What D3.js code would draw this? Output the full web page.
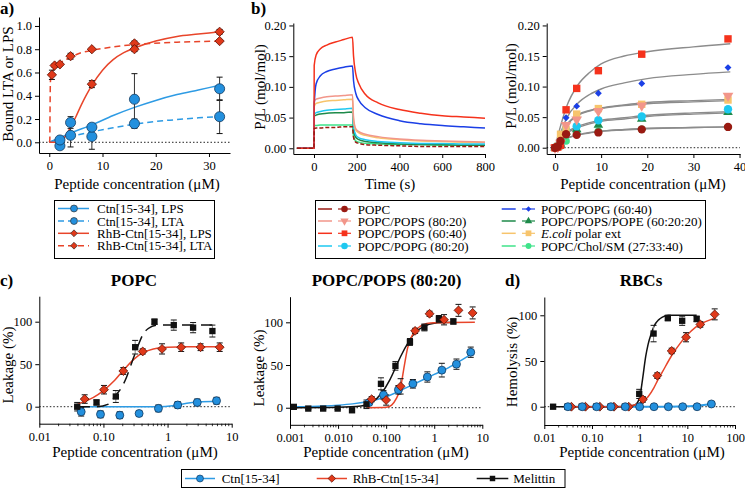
<!DOCTYPE html>
<html><head><meta charset="utf-8">
<script src="https://cdn.jsdelivr.net/npm/d3@7"></script>
<style>
body{margin:0;background:#fff}
svg{display:block}
svg text{font-family:"Liberation Serif","Tinos","Times New Roman","DejaVu Serif","Noto Serif",serif !important;fill:#000}
</style>
</head><body>
<svg id="c" width="745" height="488"></svg>
<script>
// ---------------- DATA ----------------
// Panel a: binding to LTA / LPS
const aCtnConc = [2, 4, 8, 16, 32];
const aCtnLPS = [0.02, 0.17, 0.13, 0.37, 0.46];
const aCtnLPSErr = [0.03, 0.05, 0.03, 0.22, 0.10];
const aCtnLTA = [-0.03, 0.06, 0.05, 0.16, 0.22];
const aCtnLTAErr = [0.02, 0.10, 0.11, 0.04, 0.145];
const aRhbLPSConc = [8, 16, 32];
const aRhbLPS = [0.50, 0.80, 0.95];
const aRhbLPSErr = [0.03, 0.02, 0.02];
const aRhbLTAConc = [0.5, 1, 2, 4, 8, 16, 32];
const aRhbLTA = [0.58, 0.66, 0.67, 0.74, 0.80, 0.85, 0.87];
const aRhbLTAErr = [0.04, 0.015, 0.01, 0.025, 0.01, 0.02, 0.01];
// fitted curves
const aFitCtnLPSx = [0, 2, 4, 8, 12, 16, 20, 24, 28, 32];
const aFitCtnLPSy = [0, 0.04, 0.08, 0.15, 0.23, 0.30, 0.36, 0.41, 0.45, 0.49];
const aFitCtnLTAx = [0, 4, 8, 12, 16, 20, 24, 28, 32];
const aFitCtnLTAy = [0, 0.05, 0.09, 0.125, 0.155, 0.18, 0.195, 0.21, 0.22];
const aFitRhbLPSx = [0, 1, 2, 3, 4, 5, 6, 7, 8, 10, 12, 14, 16, 20, 24, 28, 32];
const aFitRhbLPSy = [0, 0, 0.01, 0.05, 0.13, 0.22, 0.32, 0.41, 0.49, 0.62, 0.71, 0.77, 0.81, 0.87, 0.91, 0.93, 0.95];
const aFitRhbLTAx = [0, 0.1, 0.15, 0.2, 0.3, 0.5, 1, 2, 4, 6, 8, 12, 16, 24, 32];
const aFitRhbLTAy = [0, 0.02, 0.3, 0.5, 0.57, 0.6, 0.64, 0.68, 0.73, 0.77, 0.79, 0.82, 0.84, 0.86, 0.87];
const aXTicks = [0, 10, 20, 30];
const aYTicks = [0, 0.2, 0.4, 0.6, 0.8, 1.0];
const aYLabels = ["0.0", "0.2", "0.4", "0.6", "0.8", "1.0"];

// Panel b: membrane composition names
const bNames = ["POPC", "POPC/POPS (80:20)", "POPC/POPS (60:40)", "POPC/POPG (80:20)",
  "POPC/POPG (60:40)", "POPC/POPS/POPE (60:20:20)", "E.coli polar ext", "POPC/Chol/SM (27:33:40)"];
// b left: sensorgram time courses
const bTime = [-80, 0, 1, 10, 30, 60, 100, 140, 180, 185, 195, 210, 240, 300, 400, 500, 600, 700, 800];
const bPOPC   = [0, 0, 0.032, 0.033, 0.033, 0.034, 0.034, 0.035, 0.035, 0.018, 0.010, 0.008, 0.006, 0.005, 0.004, 0.003, 0.003, 0.003, 0.003];
const bPOPS80 = [0, 0, 0.076, 0.080, 0.082, 0.084, 0.085, 0.086, 0.087, 0.050, 0.032, 0.027, 0.023, 0.019, 0.015, 0.013, 0.012, 0.011, 0.010];
const bPOPS60 = [0, 0, 0.135, 0.152, 0.162, 0.168, 0.173, 0.177, 0.181, 0.150, 0.122, 0.105, 0.088, 0.074, 0.063, 0.057, 0.053, 0.051, 0.049];
const bPOPG80 = [0, 0, 0.055, 0.058, 0.060, 0.062, 0.063, 0.064, 0.065, 0.035, 0.022, 0.017, 0.014, 0.011, 0.009, 0.008, 0.008, 0.007, 0.007];
const bPOPG60 = [0, 0, 0.070, 0.105, 0.118, 0.125, 0.129, 0.132, 0.134, 0.110, 0.090, 0.078, 0.066, 0.055, 0.045, 0.040, 0.037, 0.035, 0.033];
const bPOPE   = [0, 0, 0.052, 0.054, 0.056, 0.057, 0.058, 0.058, 0.059, 0.030, 0.018, 0.014, 0.011, 0.009, 0.007, 0.006, 0.006, 0.005, 0.005];
const bEcoli  = [0, 0, 0.068, 0.073, 0.075, 0.077, 0.078, 0.079, 0.080, 0.045, 0.030, 0.025, 0.021, 0.017, 0.014, 0.012, 0.011, 0.010, 0.010];
const bChol   = [0, 0, 0.037, 0.037, 0.038, 0.038, 0.038, 0.038, 0.038, 0.020, 0.012, 0.010, 0.008, 0.007, 0.006, 0.006, 0.005, 0.005, 0.005];
const bTimeTicks = [0, 200, 400, 600, 800];
const bYTicks = [0, 0.05, 0.10, 0.15, 0.20];
const bYLabels = ["0.00", "0.05", "0.10", "0.15", "0.20"];
// b right: steady-state P/L vs concentration
const bConc = [0, 0.6, 1.2, 2.4, 4.7, 9.4, 18.8, 37.5];
const bPtPOPC   = [0, 0.002, 0.011, 0.022, 0.021, 0.025, 0.030, 0.034];
const bPtPOPS80 = [0, 0.001, 0.008, 0.037, 0.046, 0.060, 0.069, 0.085];
const bPtPOPS60 = [0, 0.001, 0.004, 0.062, 0.097, 0.126, 0.153, 0.178];
const bPtPOPG80 = [0, 0.001, 0.008, 0.029, 0.035, 0.045, 0.051, 0.063];
const bPtPOPG60 = [0, 0.001, 0.006, 0.049, 0.068, 0.089, 0.105, 0.131];
const bPtPOPE   = [0, 0.001, 0.006, 0.026, 0.030, 0.037, 0.047, 0.058];
const bPtEcoli  = [0, 0.002, 0.022, 0.030, 0.055, 0.064, 0.071, 0.078];
const bPtChol   = [0, 0.001, 0.003, 0.011, 0.024, 0.027, 0.030, 0.034];
const bFitX = [0, 1, 2.5, 5, 7.5, 10, 15, 20, 30, 38];
const bFitPOPC   = [0, 0.007, 0.015, 0.021, 0.024, 0.027, 0.030, 0.032, 0.033, 0.034];
const bFitPOPS80 = [0, 0.016, 0.037, 0.054, 0.061, 0.065, 0.070, 0.074, 0.077, 0.079];
const bFitPOPS60 = [0, 0.030, 0.067, 0.103, 0.123, 0.137, 0.150, 0.157, 0.165, 0.170];
const bFitPOPG80 = [0, 0.011, 0.025, 0.035, 0.041, 0.045, 0.049, 0.053, 0.057, 0.059];
const bFitPOPG60 = [0, 0.020, 0.048, 0.073, 0.087, 0.096, 0.106, 0.113, 0.120, 0.124];
const bFitPOPE   = [0, 0.010, 0.023, 0.033, 0.039, 0.043, 0.047, 0.051, 0.055, 0.057];
const bFitEcoli  = [0, 0.016, 0.036, 0.053, 0.060, 0.064, 0.069, 0.072, 0.075, 0.077];
const bFitChol   = [0, 0.007, 0.015, 0.021, 0.025, 0.027, 0.029, 0.031, 0.033, 0.034];
const bConcTicks = [0, 10, 20, 30, 40];

// Panel c left: POPC leakage
const cpMelConc = [0.039, 0.078, 0.156, 0.3125, 0.625, 1.25, 2.5, 5];
const cpMel = [0, 5, 12, 70, 100, 96, 93, 89];
const cpMelErr = [5, 3, 7, 8, 3, 6, 6, 7];
const cpRhbConc = [0.051, 0.102, 0.204, 0.41, 0.82, 1.63, 3.27, 6.5];
const cpRhb = [9, 20, 42, 65, 68, 70, 70, 70];
const cpRhbErr = [5, 5, 4, 3, 6, 5, 4, 5];
const cpCtnConc = [0.045, 0.09, 0.18, 0.36, 0.72, 1.44, 2.9, 5.8];
const cpCtn = [-6, -9, -10, -8, -2, 2, 5, 7];
const cpCtnErr = [5, 4, 4, 3, 4, 4, 4, 4];
const cpFitMelX = [0.04, 0.08, 0.12, 0.15, 0.2, 0.23, 0.28, 0.34, 0.42, 0.5, 0.68, 1, 5];
const cpFitMelY = [0, 0, 3, 12, 25, 35, 53, 70, 86, 92, 96, 96, 96];
const cpFitRhbX = [0.04, 0.05, 0.07, 0.1, 0.15, 0.2, 0.3, 0.4, 0.6, 1, 2, 7];
const cpFitRhbY = [3, 6, 11, 19, 31, 42, 56, 63, 68, 70, 70.5, 70.5];
const cpFitCtnX = [0.04, 0.1, 0.3, 0.7, 1.2, 2, 3, 6];
const cpFitCtnY = [0, 0, 0, 0, 1, 4, 5.5, 6.5];
const cpXTicks = [0.01, 0.1, 1, 10];
const cpXLabels = ["0.01", "0.10", "1", "10"];
const cYTicks = [0, 50, 100];

// Panel c right: POPC/POPS (80:20) leakage
const csMelConc = [0.0012, 0.0024, 0.0049, 0.0098, 0.0195, 0.039, 0.078, 0.156, 0.3125, 0.625, 1.25, 2.5];
const csMel = [1, -1, -1, -1, -3, 4, 28, 49, 77, 94, 104, 101];
const csMelErr = [2, 1, 1, 1, 2, 5, 7, 5, 4, 4, 4, 3];
const csRhbConc = [0.05, 0.1, 0.2, 0.4, 0.8, 1.6, 3.2, 6.3];
const csRhb = [10, 9, 25, 90, 110, 103, 114, 111];
const csRhbErr = [3, 6, 9, 3, 3, 6, 7, 7];
const csCtnConc = [0.044, 0.088, 0.18, 0.36, 0.72, 1.44, 2.9, 5.75];
const csCtn = [6, 15, 21, 28, 36, 44, 51, 65];
const csCtnErr = [3, 5, 5, 5, 6, 8, 6, 6];
const csFitMelX = [0.0012, 0.01, 0.03, 0.05, 0.08, 0.12, 0.16, 0.2, 0.3, 0.4, 0.6, 1, 2.5];
const csFitMelY = [0, 0.5, 2, 6, 17, 33, 48, 60, 78, 88, 95, 99, 100];
const csFitRhbX = [0.04, 0.1, 0.13, 0.16, 0.2, 0.24, 0.28, 0.33, 0.4, 0.5, 0.7, 1, 7];
const csFitRhbY = [0, 0.5, 3, 10, 24, 50, 70, 82, 90, 95, 98.5, 99.5, 100];
const csFitCtnX = [0.0012, 0.005, 0.01, 0.02, 0.04, 0.08, 0.15, 0.3, 0.6, 1, 2, 4, 6];
const csFitCtnY = [1, 2, 3, 4.5, 7, 11, 17, 25, 33, 39, 47, 57, 63];
const csXTicks = [0.001, 0.01, 0.1, 1, 10];
const csXLabels = ["0.001", "0.010", "0.100", "1", "10"];

// Panel d: RBC hemolysis
const dMelConc = [0.0153, 0.0306, 0.061, 0.122, 0.245, 0.49, 0.98, 1.96, 3.9, 7.8, 15.7];
const dMel = [0, 0, 0, 0, 0, 0, 14, 80, 97, 94, 96];
const dMelErr = [0, 0, 0, 0, 0, 0, 5, 9, 3, 5, 3];
const dRhbConc = [0.037, 0.073, 0.146, 0.29, 0.59, 1.17, 2.34, 4.7, 9.4, 18.75, 37.5];
const dRhb = [0, 0, 0, 0, 0, 8, 34, 61, 76, 90, 101];
const dRhbErr = [0, 0, 0, 0, 0, 3, 3, 3, 5, 3, 6];
const dCtnConc = [0.0313, 0.0625, 0.125, 0.25, 0.5, 1, 2, 4, 8, 16, 32];
const dCtn = [0, 0, 0, 0, 0, 0, 0, 0, 0, 0, 3];
const dCtnErr = [0, 0, 0, 0, 0, 0, 0, 0, 0, 0, 2];
const dFitMelX = [0.015, 0.5, 0.8, 1, 1.15, 1.34, 1.5, 1.75, 2, 2.5, 3, 4, 15.7];
const dFitMelY = [0, 0, 2, 10, 30, 55, 68, 80, 88, 95, 98, 100, 100];
const dFitRhbX = [0.037, 0.3, 0.6, 1, 1.5, 2, 2.34, 3, 4.7, 7, 9.4, 15, 20, 30, 40];
const dFitRhbY = [0, 0, 1, 4, 11, 21, 28, 38, 56, 69, 77, 87, 91, 95, 97];
const dFitCtnX = [0.03, 1, 4, 10, 20, 32];
const dFitCtnY = [0, 0, 0, 0.5, 1.5, 3];
const dXTicks = [0.01, 0.1, 1, 10, 100];
const dXLabels = ["0.01", "0.10", "1", "10", "100"];

// ---------------- STYLE ----------------
const FONT = '"Liberation Serif","Tinos","Times New Roman","DejaVu Serif","Noto Serif",serif';
const C = {
  blue: "#2390DE", blueLine: "#2E9BE4", red: "#E0391A", redLine: "#E8452A", black: "#111",
  POPC: "#9A1A12", POPS80: "#F2968A", POPS60: "#F5321C", POPG80: "#1EC8F0",
  POPG60: "#1B3FE6", POPE: "#1E8A4A", Ecoli: "#F7C46C", Chol: "#3FE38A"
};
const svg = d3.select("#c").attr("font-family", FONT);
const pts = (xs, ys) => xs.map((v, i) => [v, ys[i]]);
const DIAMOND = d3.symbolDiamond2 || d3.symbolDiamond;

function drawAxes(g, x, y, o) {
  const xa = d3.axisBottom(x).tickSize(4).tickSizeOuter(0).tickPadding(4).tickValues(o.xt);
  if (o.xl) xa.tickFormat((d, i) => o.xl[i]); else xa.tickFormat(d3.format("d"));
  g.append("g").attr("transform", `translate(0,${y.range()[0]})`).call(xa);
  const ya = d3.axisLeft(y).tickSize(4).tickSizeOuter(0).tickPadding(3).tickValues(o.yt);
  if (o.yl) ya.tickFormat((d, i) => o.yl[i]); else ya.tickFormat(d3.format("d"));
  g.append("g").attr("transform", `translate(${x.range()[0]},0)`).call(ya);
  if (o.minor) {
    const [a, b] = x.domain();
    const mv = [];
    for (let e = Math.floor(Math.log10(a)); e <= Math.ceil(Math.log10(b)); e++)
      for (let k = 2; k <= 9; k++) { const v = k * Math.pow(10, e); if (v > a && v < b) mv.push(v); }
    g.append("g").selectAll("line").data(mv).join("line")
      .attr("x1", d => x(d)).attr("x2", d => x(d))
      .attr("y1", y.range()[0]).attr("y2", y.range()[0] + 2.5)
      .attr("stroke", "#000").attr("stroke-width", 0.8);
  }
  g.selectAll("g").attr("font-family", FONT);
  g.selectAll(".tick text").attr("font-family", FONT).style("font-size", "12.5px");
  g.selectAll(".domain,.tick line").attr("stroke", "#000");
}
function zeroLine(g, x, y) {
  g.append("line").attr("x1", x.range()[0]).attr("x2", x.range()[1])
    .attr("y1", y(0)).attr("y2", y(0))
    .attr("stroke", "#222").attr("stroke-width", 1).attr("stroke-dasharray", "1.5,2");
}
function curve(g, x, y, data, color, w, dash) {
  g.append("path").datum(data)
    .attr("d", d3.line().x(d => x(d[0])).y(d => y(d[1])).curve(d3.curveMonotoneX))
    .attr("fill", "none").attr("stroke", color).attr("stroke-width", w || 1.5)
    .attr("stroke-dasharray", dash || null);
}
function errs(g, x, y, xs, ys, es, color, cap) {
  const d = xs.map((v, i) => ({ x: v, y: ys[i], e: es[i] })).filter(d => d.e > 0);
  const gg = g.append("g").attr("stroke", color).attr("stroke-width", 1);
  gg.selectAll("line.v").data(d).join("line").attr("class", "v")
    .attr("x1", d => x(d.x)).attr("x2", d => x(d.x)).attr("y1", d => y(d.y - d.e)).attr("y2", d => y(d.y + d.e));
  [1, -1].forEach(s => gg.selectAll("line.c" + s).data(d).join("line").attr("class", "c" + s)
    .attr("x1", d => x(d.x) - cap).attr("x2", d => x(d.x) + cap)
    .attr("y1", d => y(d.y + s * d.e)).attr("y2", d => y(d.y + s * d.e)).attr("stroke", "#111"));
}
function marks(g, x, y, xs, ys, type, size, fill, stroke, rot) {
  g.append("g").selectAll("path").data(pts(xs, ys)).join("path")
    .attr("d", d3.symbol().type(type).size(size))
    .attr("transform", d => `translate(${x(d[0])},${y(d[1])})` + (rot ? ` rotate(${rot})` : ""))
    .attr("fill", fill).attr("stroke", stroke).attr("stroke-width", stroke === "none" ? 0 : 0.8);
}
function xTitle(t, cx, by) {
  svg.append("text").attr("x", cx).attr("y", by).attr("text-anchor", "middle")
    .style("font-size", "15px").text(t);
}
function yTitle(t, cx, cy) {
  svg.append("text").attr("transform", `translate(${cx},${cy}) rotate(-90)`).attr("dy", "0.35em")
    .attr("text-anchor", "middle").style("font-size", "15px").text(t);
}
function label(t, x, y, size, anchor) {
  svg.append("text").attr("x", x).attr("y", y).attr("text-anchor", anchor || "start")
    .style("font-size", size + "px").style("font-weight", "bold").text(t);
}

// ---------------- PANEL a ----------------
{
  const g = svg.append("g");
  const x = d3.scaleLinear().domain([-1.93, 33.95]).range([39, 230]);
  const y = d3.scaleLinear().domain([-0.092, 1.077]).range([153, 17]);
  zeroLine(g, x, y);
  drawAxes(g, x, y, { xt: aXTicks, yt: aYTicks, yl: aYLabels });
  curve(g, x, y, pts(aFitCtnLPSx, aFitCtnLPSy), C.blueLine, 1.5);
  curve(g, x, y, pts(aFitCtnLTAx, aFitCtnLTAy), C.blueLine, 1.5, "6,4");
  curve(g, x, y, pts(aFitRhbLPSx, aFitRhbLPSy), C.redLine, 1.5);
  curve(g, x, y, pts(aFitRhbLTAx, aFitRhbLTAy), C.redLine, 1.5, "6,4");
  errs(g, x, y, aCtnConc, aCtnLPS, aCtnLPSErr, "#333", 3);
  errs(g, x, y, aCtnConc, aCtnLTA, aCtnLTAErr, "#333", 3);
  errs(g, x, y, aRhbLPSConc, aRhbLPS, aRhbLPSErr, "#333", 3);
  errs(g, x, y, aRhbLTAConc, aRhbLTA, aRhbLTAErr, "#333", 3);
  marks(g, x, y, aCtnConc, aCtnLTA, d3.symbolCircle, 80, C.blue, "#123a60");
  marks(g, x, y, aCtnConc, aCtnLPS, d3.symbolCircle, 80, C.blue, "#123a60");
  marks(g, x, y, aRhbLTAConc, aRhbLTA, DIAMOND, 55, C.red, "#5a1005");
  marks(g, x, y, aRhbLPSConc, aRhbLPS, DIAMOND, 55, C.red, "#5a1005");
  yTitle("Bound LTA or LPS", 8, 84);
  xTitle("Peptide concentration (\u03bcM)", 137, 189);
  label("a)", 0, 14, 17);
}

// ---------------- PANEL b (left) ----------------
const bSeries = [
  { n: bNames[0], k: "POPC", t: bPOPC, p: bPtPOPC, f: bFitPOPC, sym: d3.symbolCircle, s: 55 },
  { n: bNames[1], k: "POPS80", t: bPOPS80, p: bPtPOPS80, f: bFitPOPS80, sym: d3.symbolTriangle, s: 50, rot: 180 },
  { n: bNames[2], k: "POPS60", t: bPOPS60, p: bPtPOPS60, f: bFitPOPS60, sym: d3.symbolSquare, s: 55 },
  { n: bNames[3], k: "POPG80", t: bPOPG80, p: bPtPOPG80, f: bFitPOPG80, sym: d3.symbolCircle, s: 55 },
  { n: bNames[4], k: "POPG60", t: bPOPG60, p: bPtPOPG60, f: bFitPOPG60, sym: DIAMOND, s: 30 },
  { n: bNames[5], k: "POPE", t: bPOPE, p: bPtPOPE, f: bFitPOPE, sym: d3.symbolTriangle, s: 40 },
  { n: bNames[6], k: "Ecoli", t: bEcoli, p: bPtEcoli, f: bFitEcoli, sym: d3.symbolSquare, s: 55 },
  { n: bNames[7], k: "Chol", t: bChol, p: bPtChol, f: bFitChol, sym: d3.symbolCircle, s: 45 }
];
{
  const g = svg.append("g");
  const x = d3.scaleLinear().domain([-96.8, 800]).range([293.3, 485]);
  const y = d3.scaleLinear().domain([-0.0093, 0.204]).range([154, 23]);
  drawAxes(g, x, y, { xt: bTimeTicks, yt: bYTicks, yl: bYLabels });
  const order = ["Chol", "POPE", "POPG80", "Ecoli", "POPS80", "POPG60", "POPS60"];
  order.forEach(k => { const s = bSeries.find(d => d.k === k); curve(g, x, y, pts(bTime, s.t), C[k], 1.5); });
  curve(g, x, y, pts(bTime, bPOPC), C.POPC, 1.5, "4,2");
  yTitle("P/L (mol/mol)", 260, 87);
  xTitle("Time (s)", 390, 189);
  label("b)", 251, 14, 17);
}
// ---------------- PANEL b (right) ----------------
{
  const g = svg.append("g");
  const x = d3.scaleLinear().domain([-1.8, 40.1]).range([546.7, 740]);
  const y = d3.scaleLinear().domain([-0.0103, 0.204]).range([154, 23]);
  zeroLine(g, x, y);
  drawAxes(g, x, y, { xt: bConcTicks, yt: bYTicks, yl: bYLabels });
  bSeries.forEach(s => curve(g, x, y, pts(bFitX, s.f), "#8c8c8c", 1.4));
  ["Chol", "POPE", "POPG80", "Ecoli", "POPS80", "POPG60", "POPS60", "POPC"].forEach(k => {
    const s = bSeries.find(d => d.k === k);
    marks(g, x, y, bConc, s.p, s.sym, s.s, C[k], "none", s.rot);
  });
  yTitle("P/L (mol/mol)", 511, 86);
  xTitle("Peptide concentration (\u03bcM)", 643, 189);
}

// ---------------- LEGENDS (top) ----------------
{
  const g = svg.append("g");
  g.append("rect").attr("x", 54.5).attr("y", 200.5).attr("width", 160).attr("height", 58)
    .attr("fill", "#fff").attr("stroke", "#000").attr("stroke-width", 1);
  const items = [
    { t: "Ctn[15-34], LPS", c: C.blueLine, f: C.blue, sym: d3.symbolCircle, dash: null, s: 38 },
    { t: "Ctn[15-34], LTA", c: C.blueLine, f: C.blue, sym: d3.symbolCircle, dash: "6,4", s: 38 },
    { t: "RhB-Ctn[15-34], LPS", c: C.redLine, f: C.red, sym: DIAMOND, dash: null, s: 30 },
    { t: "RhB-Ctn[15-34], LTA", c: C.redLine, f: C.red, sym: DIAMOND, dash: "6,4", s: 30 }
  ];
  const rows = [208.5, 221, 233.3, 245.7];
  items.forEach((it, i) => {
    const yy = rows[i];
    g.append("line").attr("x1", 58).attr("x2", 89).attr("y1", yy).attr("y2", yy)
      .attr("stroke", it.c).attr("stroke-width", 1.5).attr("stroke-dasharray", it.dash);
    g.append("path").attr("d", d3.symbol().type(it.sym).size(it.s)).attr("transform", `translate(74,${yy})`)
      .attr("fill", it.f).attr("stroke", "#333").attr("stroke-width", 0.7);
    g.append("text").attr("x", 97).attr("y", yy).attr("dy", "0.35em").style("font-size", "13px").text(it.t);
  });
}
{
  const g = svg.append("g");
  g.append("rect").attr("x", 315.5).attr("y", 200.5).attr("width", 390).attr("height", 58)
    .attr("fill", "#fff").attr("stroke", "#000").attr("stroke-width", 1);
  const rows = [209, 221, 233.3, 246];
  bSeries.forEach((s, i) => {
    const col = i < 4 ? 0 : 1, yy = rows[i % 4];
    const x0 = col ? 501.7 : 318, xm = col ? 522 : 338, tx = col ? 541 : 357.7;
    g.append("line").attr("x1", x0).attr("x2", x0 + 14).attr("y1", yy).attr("y2", yy)
      .attr("stroke", C[s.k]).attr("stroke-width", 1.5);
    g.append("line").attr("x1", xm).attr("x2", xm + 13).attr("y1", yy).attr("y2", yy)
      .attr("stroke", C[s.k]).attr("stroke-width", 1.2);
    g.append("path").attr("d", d3.symbol().type(s.sym).size(s.s * 0.6))
      .attr("transform", `translate(${xm + 6.5},${yy})` + (s.rot ? ` rotate(${s.rot})` : ""))
      .attr("fill", C[s.k]);
    const t = g.append("text").attr("x", tx).attr("y", yy).attr("dy", "0.35em").style("font-size", "13px");
    if (s.k === "Ecoli") {
      t.append("tspan").style("font-style", "italic").text("E.coli");
      t.append("tspan").text(" polar ext");
    } else t.text(s.n);
  });
}

// ---------------- PANEL c (left) ----------------
function leakPanel(xr, xd, yr, yd, o) {
  const g = svg.append("g");
  const x = d3.scaleLog().domain(xd).range(xr);
  const y = d3.scaleLinear().domain(yd).range(yr);
  zeroLine(g, x, y);
  drawAxes(g, x, y, { xt: o.xt, xl: o.xl, yt: cYTicks, minor: true });
  return { g, x, y };
}
{
  const { g, x, y } = leakPanel([39.3, 231.7], [0.01, 10], [423.7, 296.2], [-20, 130], { xt: cpXTicks, xl: cpXLabels });
  curve(g, x, y, pts(cpFitCtnX, cpFitCtnY), C.blueLine, 1.5);
  curve(g, x, y, pts(cpFitRhbX, cpFitRhbY), C.redLine, 1.5);
  curve(g, x, y, pts(cpFitMelX, cpFitMelY), "#111", 1.5, "12,7");
  errs(g, x, y, cpCtnConc, cpCtn, cpCtnErr, "#888", 3);
  errs(g, x, y, cpRhbConc, cpRhb, cpRhbErr, "#888", 3);
  errs(g, x, y, cpMelConc, cpMel, cpMelErr, "#888", 3);
  marks(g, x, y, cpCtnConc, cpCtn, d3.symbolCircle, 50, C.blue, "#123a60");
  marks(g, x, y, cpRhbConc, cpRhb, DIAMOND, 50, C.red, "#5a1005");
  marks(g, x, y, cpMelConc, cpMel, d3.symbolSquare, 40, "#111", "none");
  yTitle("Leakage (%)", 8, 365);
  xTitle("Peptide concentration (\u03bcM)", 135, 457);
  label("c)", 0, 286, 17);
  label("POPC", 134, 286, 17, "middle");
}
// ---------------- PANEL c (right) ----------------
{
  const { g, x, y } = leakPanel([290, 482.3], [0.001, 10], [424.8, 296.7], [-20, 130], { xt: csXTicks, xl: csXLabels });
  curve(g, x, y, pts(csFitCtnX, csFitCtnY), C.blueLine, 1.5);
  curve(g, x, y, pts(csFitMelX, csFitMelY), "#111", 1.5);
  curve(g, x, y, pts(csFitRhbX, csFitRhbY), C.redLine, 1.5);
  errs(g, x, y, csCtnConc, csCtn, csCtnErr, "#888", 3);
  errs(g, x, y, csRhbConc, csRhb, csRhbErr, "#888", 3);
  errs(g, x, y, csMelConc, csMel, csMelErr, "#888", 3);
  marks(g, x, y, csCtnConc, csCtn, d3.symbolCircle, 50, C.blue, "#123a60");
  marks(g, x, y, csMelConc, csMel, d3.symbolSquare, 40, "#111", "none");
  marks(g, x, y, csRhbConc, csRhb, DIAMOND, 50, C.red, "#5a1005");
  yTitle("Leakage (%)", 259, 368);
  xTitle("Peptide concentration (\u03bcM)", 386, 457);
  label("POPC/POPS (80:20)", 386.5, 286, 17, "middle");
}
// ---------------- PANEL d ----------------
{
  const g = svg.append("g");
  const x = d3.scaleLog().domain([0.01, 100]).range([544.3, 735]);
  const y = d3.scaleLinear().domain([-20, 120]).range([425, 297]);
  zeroLine(g, x, y);
  drawAxes(g, x, y, { xt: dXTicks, xl: dXLabels, yt: cYTicks, minor: true });
  curve(g, x, y, pts(dFitCtnX, dFitCtnY), C.blueLine, 2);
  curve(g, x, y, pts(dFitMelX, dFitMelY), "#111", 1.5);
  curve(g, x, y, pts(dFitRhbX, dFitRhbY), C.redLine, 1.5);
  errs(g, x, y, dMelConc, dMel, dMelErr, "#888", 3);
  errs(g, x, y, dRhbConc, dRhb, dRhbErr, "#888", 3);
  errs(g, x, y, dCtnConc, dCtn, dCtnErr, "#888", 3);
  marks(g, x, y, dMelConc, dMel, d3.symbolSquare, 40, "#111", "none");
  marks(g, x, y, dRhbConc, dRhb, DIAMOND, 50, C.red, "#5a1005");
  marks(g, x, y, dCtnConc, dCtn, d3.symbolCircle, 50, C.blue, "#123a60");
  yTitle("Hemolysis (%)", 512, 362);
  xTitle("Peptide concentration (\u03bcM)", 642, 457);
  label("d)", 505, 286, 17);
  label("RBCs", 641, 286, 17, "middle");
}
// ---------------- LEGEND (bottom) ----------------
{
  const g = svg.append("g");
  g.append("rect").attr("x", 181.5).attr("y", 469.5).attr("width", 383.5).attr("height", 18)
    .attr("fill", "#fff").attr("stroke", "#000").attr("stroke-width", 1);
  const items = [
    { t: "Ctn[15-34]", c: C.blueLine, f: C.blue, sym: d3.symbolCircle, s: 38, x0: 185, x1: 215, tx: 221.7, st: "#123a60" },
    { t: "RhB-Ctn[15-34]", c: C.redLine, f: C.red, sym: DIAMOND, s: 36, x0: 316.7, x1: 347, tx: 352.7, st: "#5a1005" },
    { t: "Melittin", c: "#111", f: "#111", sym: d3.symbolSquare, s: 30, x0: 476.7, x1: 508.3, tx: 513.3, st: "none" }
  ];
  const yy = 478.5;
  items.forEach(it => {
    g.append("line").attr("x1", it.x0).attr("x2", it.x1).attr("y1", yy).attr("y2", yy)
      .attr("stroke", it.c).attr("stroke-width", 1.5);
    g.append("path").attr("d", d3.symbol().type(it.sym).size(it.s))
      .attr("transform", `translate(${(it.x0 + it.x1) / 2},${yy})`)
      .attr("fill", it.f).attr("stroke", it.st).attr("stroke-width", it.st === "none" ? 0 : 0.7);
    g.append("text").attr("x", it.tx).attr("y", yy).attr("dy", "0.35em").style("font-size", "13px").text(it.t);
  });
}
</script>
</body></html>
